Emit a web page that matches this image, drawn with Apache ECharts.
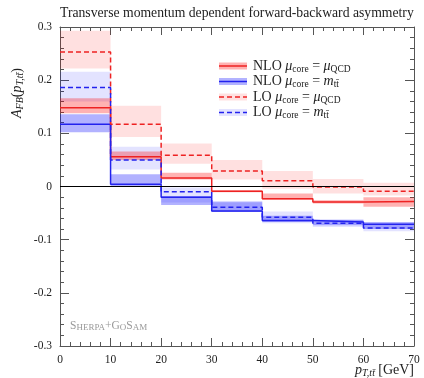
<!DOCTYPE html>
<html>
<head>
<meta charset="utf-8">
<script src="https://cdn.jsdelivr.net/npm/echarts@6/dist/echarts.min.js"></script>
<style>
  html, body { margin: 0; padding: 0; background: #fff; }
  #chart { width: 424px; height: 378px; }
</style>
</head>
<body>
<div id="chart"></div>
<script>
// Bin edges of p_T,tt (GeV)
const edges = [0, 10, 20, 30, 40, 50, 60, 70];

// NLO, mu_core = mu_QCD : central value and scale band
const nloQcd   = [0.148, 0.056, 0.016, -0.009, -0.023, -0.029, -0.028];
const nloQcdLo = [0.138, 0.050, 0.013, -0.011, -0.025, -0.032, -0.038];
const nloQcdHi = [0.166, 0.066, 0.026, -0.007, -0.013, -0.026, -0.020];

// NLO, mu_core = m_tt
const nloMtt   = [0.117, 0.004, -0.020, -0.046, -0.064, -0.067, -0.071];
const nloMttLo = [0.102, 0.000, -0.035, -0.048, -0.067, -0.073, -0.080];
const nloMttHi = [0.136, 0.023, -0.018, -0.028, -0.055, -0.063, -0.067];

// LO, mu_core = mu_QCD
const loQcd   = [0.253, 0.117, 0.059, 0.029, 0.011, -0.001, -0.009];
const loQcdLo = [0.222, 0.093, 0.043, 0.013, -0.004, -0.013, -0.017];
const loQcdHi = [0.293, 0.152, 0.081, 0.050, 0.029, 0.014, 0.007];

// LO, mu_core = m_tt
const loMtt   = [0.186, 0.050, -0.010, -0.039, -0.058, -0.069, -0.078];
const loMttLo = [0.160, 0.032, -0.030, -0.048, -0.069, -0.076, -0.084];
const loMttHi = [0.216, 0.075, -0.002, -0.030, -0.047, -0.061, -0.070];

const RED = '#ee2222', BLUE = '#2222ee';
const RED_NLO_BAND = 'rgba(255,0,0,0.30)', BLUE_NLO_BAND = 'rgba(0,0,255,0.30)';
const RED_LO_BAND = 'rgba(255,0,0,0.12)', BLUE_LO_BAND = 'rgba(0,0,255,0.11)';
const SERIF = 'Liberation Serif';
const AXIS_COLOR = '#555';

function bandData(lo, hi) {
  return lo.map((v, i) => [edges[i], edges[i + 1], v, hi[i]]);
}
function stepData(vals) {
  return edges.map((e, i) => [e, vals[Math.min(i, vals.length - 1)]]);
}
function bandSeries(name, lo, hi, fill) {
  return {
    name, type: 'custom', xAxisIndex: 0, yAxisIndex: 0,
    data: bandData(lo, hi),
    encode: { x: [0, 1], y: [2, 3] },
    silent: true,
    renderItem(params, api) {
      const a = api.coord([api.value(0), api.value(3)]);
      const b = api.coord([api.value(1), api.value(2)]);
      return {
        type: 'rect',
        shape: { x: a[0], y: a[1], width: b[0] - a[0], height: b[1] - a[1] },
        style: { fill }
      };
    }
  };
}
function stepSeries(name, vals, color, dashed) {
  return {
    name, type: 'line', step: 'end', xAxisIndex: 0, yAxisIndex: 0,
    data: stepData(vals), showSymbol: false, symbol: 'none', silent: true,
    lineStyle: { color, width: 1.5, type: dashed ? [5, 3] : 'solid' }
  };
}

const tickStyle = { lineStyle: { color: AXIS_COLOR, width: 1 } };
const xCommon = {
  type: 'value', min: 0, max: 70, interval: 10,
  axisLine: { show: true, onZero: false, lineStyle: { color: AXIS_COLOR } },
  axisTick: { show: true, inside: true, length: 8, ...tickStyle },
  minorTick: { show: true, splitNumber: 5, length: 4, ...tickStyle },
  splitLine: { show: false }
};
const yCommon = {
  type: 'value', min: -0.3, max: 0.3, interval: 0.1,
  axisLine: { show: true, onZero: false, lineStyle: { color: AXIS_COLOR } },
  axisTick: { show: true, inside: true, length: 9, ...tickStyle },
  minorTick: { show: true, splitNumber: 5, length: 4, ...tickStyle },
  splitLine: { show: false }
};

const legendRows = [
  { y: 66,  band: RED_NLO_BAND,  line: RED,  dashed: false, text: 'NLO {i|μ}{s|core} = {i|μ}{s|QCD}' },
  { y: 81.5, band: BLUE_NLO_BAND, line: BLUE, dashed: false, text: 'NLO {i|μ}{s|core} = {i|m}{s|tt\u0304}' },
  { y: 97,  band: RED_LO_BAND,   line: RED,  dashed: true,  text: 'LO {i|μ}{s|core} = {i|μ}{s|QCD}' },
  { y: 112.5, band: BLUE_LO_BAND, line: BLUE, dashed: true,  text: 'LO {i|μ}{s|core} = {i|m}{s|tt\u0304}' }
];
const legendRich = {
  i: { fontFamily: SERIF, fontStyle: 'italic', fontSize: 14, lineHeight: 16, verticalAlign: 'middle' },
  s: { fontFamily: SERIF, fontSize: 9.5, lineHeight: 9, verticalAlign: 'bottom' }
};
const legendGraphics = [];
legendRows.forEach(r => {
  legendGraphics.push({
    type: 'rect', left: 219, top: r.y - 3.5, shape: { width: 28, height: 7 },
    style: { fill: r.band }, silent: true
  });
  legendGraphics.push({
    type: 'line', shape: { x1: 219, y1: r.y, x2: 247, y2: r.y },
    style: { stroke: r.line, lineWidth: 1.5, lineDash: r.dashed ? [5, 3] : null }, silent: true
  });
  legendGraphics.push({
    type: 'text', x: 253, y: r.y,
    style: {
      text: r.text, fontFamily: SERIF, fontSize: 14, lineHeight: 16, fill: '#222',
      verticalAlign: 'middle', rich: legendRich
    }, silent: true
  });
});

const axisNameRich = {
  i: { fontFamily: SERIF, fontStyle: 'italic', fontSize: 14, lineHeight: 17, verticalAlign: 'middle' },
  n: { fontFamily: SERIF, fontSize: 14, lineHeight: 17, verticalAlign: 'middle' },
  s: { fontFamily: SERIF, fontStyle: 'italic', fontSize: 10, lineHeight: 10, verticalAlign: 'bottom' }
};

const option = {
  animation: false,
  backgroundColor: '#fff',
  title: {
    text: 'Transverse momentum dependent forward-backward asymmetry',
    left: 60, top: 6, padding: 0,
    textStyle: { fontFamily: SERIF, fontSize: 13.7, fontWeight: 'normal', color: '#222' }
  },
  grid: { left: 60, right: 10, top: 27, bottom: 32, show: false },
  xAxis: [
    { ...xCommon, position: 'bottom',
      axisLabel: { fontFamily: SERIF, fontSize: 11.5, color: '#222', margin: 8 } },
    { ...xCommon, position: 'top', axisLabel: { show: false } }
  ],
  yAxis: [
    { ...yCommon, position: 'left',
      axisLabel: { fontFamily: SERIF, fontSize: 11.5, color: '#222', margin: 8,
        formatter: v => Math.abs(v) < 1e-9 ? '0' : v.toFixed(1) } },
    { ...yCommon, position: 'right', axisLabel: { show: false } }
  ],
  graphic: [
    {
      type: 'text', x: 17, y: 93, rotation: Math.PI / 2,
      style: {
        text: '{i|A}{s|FB}{n|(}{i|p}{s|T,tt\u0304}{n|)}',
        textAlign: 'center', verticalAlign: 'middle', fill: '#222', rich: axisNameRich
      }, silent: true
    },
    {
      type: 'text', x: 414, y: 370,
      style: {
        text: '{i|p}{s|T,tt\u0304} {n|[GeV]}',
        textAlign: 'right', verticalAlign: 'middle', fill: '#222', rich: axisNameRich
      }, silent: true
    },
    {
      type: 'text', x: 70, y: 325,
      style: {
        text: '{b|S}{c|HERPA}{b|+G}{c|O}{b|S}{c|AM}',
        verticalAlign: 'middle', fill: '#999',
        rich: {
          b: { fontFamily: SERIF, fontSize: 11.5, lineHeight: 14, verticalAlign: 'bottom', fill: '#999' },
          c: { fontFamily: SERIF, fontSize: 9, lineHeight: 14, verticalAlign: 'bottom', fill: '#999' }
        }
      }, silent: true
    },
    ...legendGraphics
  ],
  series: [
    bandSeries('LO mu_QCD band', loQcdLo, loQcdHi, RED_LO_BAND),
    bandSeries('LO m_tt band', loMttLo, loMttHi, BLUE_LO_BAND),
    bandSeries('NLO mu_QCD band', nloQcdLo, nloQcdHi, RED_NLO_BAND),
    bandSeries('NLO m_tt band', nloMttLo, nloMttHi, BLUE_NLO_BAND),
    {
      name: 'zero', type: 'line', data: [], silent: true,
      markLine: {
        silent: true, symbol: 'none', label: { show: false },
        lineStyle: { color: '#000', width: 1, type: 'solid' },
        data: [{ yAxis: 0 }]
      }
    },
    stepSeries('NLO mu_QCD', nloQcd, RED, false),
    stepSeries('NLO m_tt', nloMtt, BLUE, false),
    stepSeries('LO mu_QCD', loQcd, RED, true),
    stepSeries('LO m_tt', loMtt, BLUE, true)
  ]
};

const chart = echarts.init(document.getElementById('chart'), null, { renderer: 'canvas' });
chart.setOption(option);
</script>
</body>
</html>
